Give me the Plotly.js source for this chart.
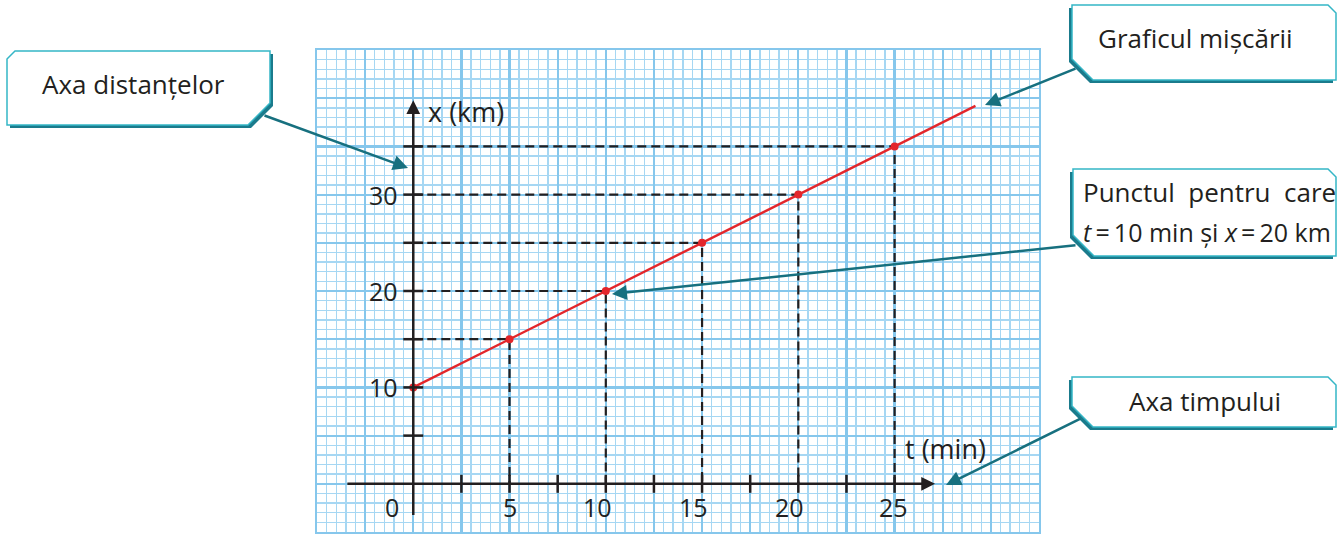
<!DOCTYPE html>
<html><head><meta charset="utf-8">
<script src="https://cdn.plot.ly/plotly-3.0.1.min.js"></script>
<style>html,body{margin:0;padding:0;background:#fff;overflow:hidden}#chart{width:1341px;height:534px}</style>
</head><body><div id="chart"></div>
<script>
// ---- data ----
const pointT = [0, 5, 10, 15, 20, 25];          // t (min)
const pointX = [10, 15, 20, 25, 30, 35];        // x (km)
const graphT = [0, 29.2];                        // red line extent
const graphX = [10, 39.2];
const tTickMarks = [2.5, 5, 7.5, 10, 12.5, 15, 17.5, 20, 22.5, 25];
const xTickMarks = [5, 10, 15, 20, 25, 30, 35];
const tTickValues = [5, 10, 15, 20, 25];
const tTickLabels = ['5', '10', '15', '20', '25'];
const xTickValues = [10, 20, 30];
const xTickLabels = ['10', '20', '30'];
const originLabel = '0';
const tAxisTitle = 't (min)';
const xAxisTitle = 'x (km)';
const calloutDist = 'Axa distanțelor';
const calloutGraph = 'Graficul mișcării';
const calloutPoint1 = 'Punctul\u00a0\u00a0pentru\u00a0\u00a0care';
const calloutPoint2 = '<i>t</i>\u2009=\u200910\u00a0min\u00a0și\u00a0<i>x</i>\u2009=\u200920\u00a0km';
const calloutTime = 'Axa timpului';

// ---- style / geometry ----
const W = 1341, H = 534;
const L = 317, R = 1039, T = 50, B = 532;
const px = x => (x - L) / (R - L);
const py = y => (B - y) / (B - T);
const FONT = '"Open Sans", "Noto Sans", sans-serif';
const INK = '#231f20';
const RED = '#e3262b';
const TEAL_LIGHT = '#35b6c6';
const TEAL_DARK = '#1a7b8c';
const ARROW_TEAL = '#17707f';
const tAxisStart = -3.5, tAxisEnd = 27.1;
const xAxisStart = -3.4, xAxisEnd = 39.8;

// ---- traces ----
const dashX = [], dashY = [];
pointT.forEach((t, i) => {
  if (t === 0) return;
  dashX.push(0, t, t, null);
  dashY.push(pointX[i], pointX[i], 0, null);
});
const traces = [
  {x: dashX, y: dashY, mode: 'lines', line: {color: INK, width: 2.2, dash: '9px,5px'}, hoverinfo: 'skip'},
  {x: graphT, y: graphX, mode: 'lines', line: {color: RED, width: 2.4}, hoverinfo: 'skip'},
  {x: pointT, y: pointX, mode: 'markers', marker: {color: RED, size: 8}, hoverinfo: 'skip'}
];

// ---- shapes ----
const shapes = [];
tTickMarks.forEach(t => shapes.push({type: 'line', xref: 'x', yref: 'y', x0: t, x1: t,
  ysizemode: 'pixel', yanchor: 0, y0: -9, y1: 9, line: {color: INK, width: 2.5}}));
xTickMarks.forEach(v => shapes.push({type: 'line', xref: 'x', yref: 'y', y0: v, y1: v,
  xsizemode: 'pixel', xanchor: 0, x0: -10, x1: 10, line: {color: INK, width: 2.5}}));

function boxPath(l, t, r, b, rightCol) {
  if (!rightCol) return [[l, t + 8], [l + 8, t], [r, t], [r, b - 22], [r - 22, b], [l, b]];
  return [[l, t], [r - 8, t], [r, t + 8], [r, b], [l + 21, b], [l, b - 21]];
}
function toPath(pts, dx, dy) {
  return pts.map((p, i) => (i ? 'L' : 'M') + px(p[0] + dx).toFixed(5) + ',' + py(p[1] + dy).toFixed(5)).join(' ') + ' Z';
}
function addBox(l, t, r, b, right) {
  const pts = boxPath(l, t, r, b, right);
  const sdx = right ? -3 : 3;
  shapes.push({type: 'path', xref: 'paper', yref: 'paper', path: toPath(pts, sdx, 3),
    fillcolor: TEAL_DARK, line: {width: 0}, layer: 'above'});
  shapes.push({type: 'path', xref: 'paper', yref: 'paper', path: toPath(pts, 0, 0),
    fillcolor: '#ffffff', line: {color: TEAL_LIGHT, width: 1.5}, layer: 'above'});
}
addBox(7, 51, 270, 125, false);
addBox(1072, 5, 1336, 80, true);
addBox(1073, 169, 1336, 256, true);
addBox(1072, 377, 1336, 427, true);

// ---- annotations ----
const ann = [];
function paperText(x, y, text, font, xanchor) {
  ann.push({x: px(x), y: py(y), xref: 'paper', yref: 'paper', text: text, showarrow: false,
    xanchor: xanchor || 'center', yanchor: 'middle', font: font});
}
// axes arrows
ann.push({x: tAxisEnd, y: 0, ax: tAxisStart, ay: 0, xref: 'x', yref: 'y', axref: 'x', ayref: 'y',
  showarrow: true, arrowhead: 2, arrowsize: 1.1, arrowwidth: 2.5, arrowcolor: INK, text: '', font: {size: 1}});
ann.push({x: 0, y: xAxisEnd, ax: 0, ay: xAxisStart, xref: 'x', yref: 'y', axref: 'x', ayref: 'y',
  showarrow: true, arrowhead: 2, arrowsize: 1.1, arrowwidth: 2.5, arrowcolor: INK, text: '', font: {size: 1}});
// tick labels
const tickFont = {family: FONT, size: 25, color: INK};
const titleFont = {family: FONT, size: 27, color: INK};
const tLabelShift = {5: 0, 10: -8, 15: -9, 20: -9, 25: -1};
tTickValues.forEach((t, i) => ann.push({x: t, y: 0, xref: 'x', yref: 'y', text: tTickLabels[i],
  showarrow: false, xanchor: 'center', yanchor: 'middle', yshift: -23, xshift: tLabelShift[t], font: tickFont}));
ann.push({x: 0, y: 0, xref: 'x', yref: 'y', text: originLabel, showarrow: false, xanchor: 'center', yanchor: 'middle',
  yshift: -23, xshift: -21, font: tickFont});
xTickValues.forEach((v, i) => ann.push({x: 0, y: v, xref: 'x', yref: 'y', text: xTickLabels[i],
  showarrow: false, xanchor: 'right', yanchor: 'middle', xshift: -13, font: tickFont}));
// axis titles
paperText(466, 111, xAxisTitle, titleFont);
paperText(945, 448, tAxisTitle, titleFont);
// callout texts
const cfont = {family: FONT, size: 26, color: INK};
paperText(134, 84, calloutDist, cfont);
paperText(1195, 38, calloutGraph, cfont);
paperText(1081, 192, calloutPoint1, cfont, 'left');
paperText(1081, 232, calloutPoint2, {family: FONT, size: 25, color: INK}, 'left');
paperText(1205, 401, calloutTime, cfont);
// callout pointers
function pointer(tipX, tipY, tailX, tailY) {
  ann.push({x: px(tipX), y: py(tipY), xref: 'paper', yref: 'paper', ax: tailX - tipX, ay: tailY - tipY,
    showarrow: true, arrowhead: 2, arrowsize: 1.2, arrowwidth: 2.5, arrowcolor: ARROW_TEAL, text: '', font: {size: 1}, standoff: 0});
}
pointer(408, 168, 263, 115);
pointer(985, 105, 1077, 68);
pointer(612, 294, 1077, 245);
pointer(946, 485, 1082, 418);

const GRID_MAJOR = '#86c7ec';
const GRID_MINOR = '#a6d7f3';
const layout = {
  width: W, height: H,
  margin: {l: L, r: W - R, t: T, b: H - B, pad: 0},
  paper_bgcolor: '#ffffff', plot_bgcolor: '#ffffff',
  showlegend: false,
  xaxis: {range: [-5, 32.5], tick0: 0, dtick: 2.5, showgrid: true, gridcolor: GRID_MAJOR, gridwidth: 2.2,
    minor: {tick0: 0, dtick: 0.5, showgrid: true, gridcolor: GRID_MINOR, gridwidth: 1.4},
    showticklabels: false, ticks: '', zeroline: false, showline: true, mirror: true, linecolor: GRID_MAJOR, linewidth: 2, fixedrange: true},
  yaxis: {range: [-5, 45], tick0: 0, dtick: 5, showgrid: true, gridcolor: GRID_MAJOR, gridwidth: 2.2,
    minor: {tick0: 0, dtick: 1, showgrid: true, gridcolor: GRID_MINOR, gridwidth: 1.4},
    showticklabels: false, ticks: '', zeroline: false, showline: true, mirror: true, linecolor: GRID_MAJOR, linewidth: 2, fixedrange: true},
  shapes: shapes,
  annotations: ann
};
Plotly.newPlot('chart', traces, layout, {displayModeBar: false, staticPlot: true});
</script></body></html>
